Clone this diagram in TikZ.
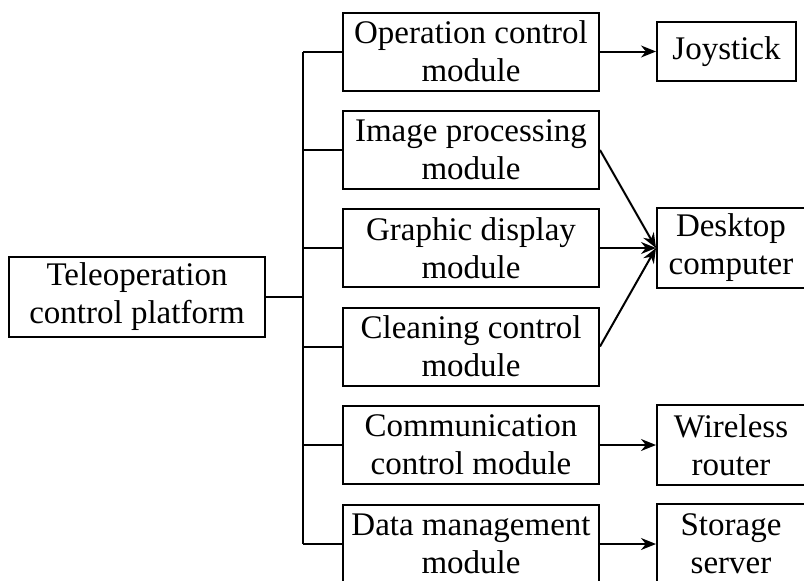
\documentclass[tikz,border=0pt]{standalone}
\usepackage{fontspec}
\setmainfont{Liberation Serif}
\usetikzlibrary{arrows.meta}
\tikzset{
  blk/.style={draw, line width=2pt, inner sep=0pt, align=center,
    font=\fontsize{33}{38}\selectfont},
  link/.style={line width=2pt},
  arr/.style={line width=2pt, -{Stealth[length=15pt,width=12pt]}}
}
\begin{document}
\begin{tikzpicture}[x=1pt,y=-1pt]
\useasboundingbox (0,0) rectangle (804,581);
\clip (0,0) rectangle (804,581);
\fill[white] (0,0) rectangle (804,581);

% platform
\node[blk, minimum width=256pt, minimum height=80pt] (plat) at (137,297)
  {Teleoperation\\control platform};

% modules
\tikzset{mod/.style={blk, minimum width=256pt, minimum height=78pt}}
\node[mod] (op)   at (471,51.5)  {Operation control\\module};
\node[mod] (img)  at (471,150)   {Image processing\\module};
\node[mod] (gfx)  at (471,248)   {Graphic display\\module};
\node[mod] (cln)  at (471,346.5) {Cleaning control\\module};
\node[mod] (com)  at (471,445)   {Communication\\control module};
\node[mod] (dat)  at (471,544)   {Data management\\module};

% devices
\node[blk, minimum width=139pt, minimum height=59pt] (joy) at (726.5,51.5) {Joystick};
\tikzset{dev/.style={blk, minimum width=148pt, minimum height=80pt}}
\node[dev] (desk) at (731,248) {Desktop\\computer};
\node[dev] (wifi) at (731,445) {Wireless\\router};
\node[dev] (stor) at (731,544) {Storage\\server};

% bus
\coordinate (bus) at (303,0);
\draw[link] (plat.east) -- (plat.east -| bus);
\draw[link] (op.west -| bus) -- (dat.west -| bus);
\foreach \m in {op,img,gfx,cln,com,dat}
  \draw[link] (\m.west -| bus) -- (\m.west);

% device links
\draw[arr] (op.east) -- (joy.west);
\draw[arr] (img.east) -- (desk.west);
\draw[arr] (gfx.east) -- (desk.west);
\draw[arr] (cln.east) -- (desk.west);
\draw[arr] (com.east) -- (wifi.west);
\draw[arr] (dat.east) -- (stor.west);
\end{tikzpicture}
\end{document}
